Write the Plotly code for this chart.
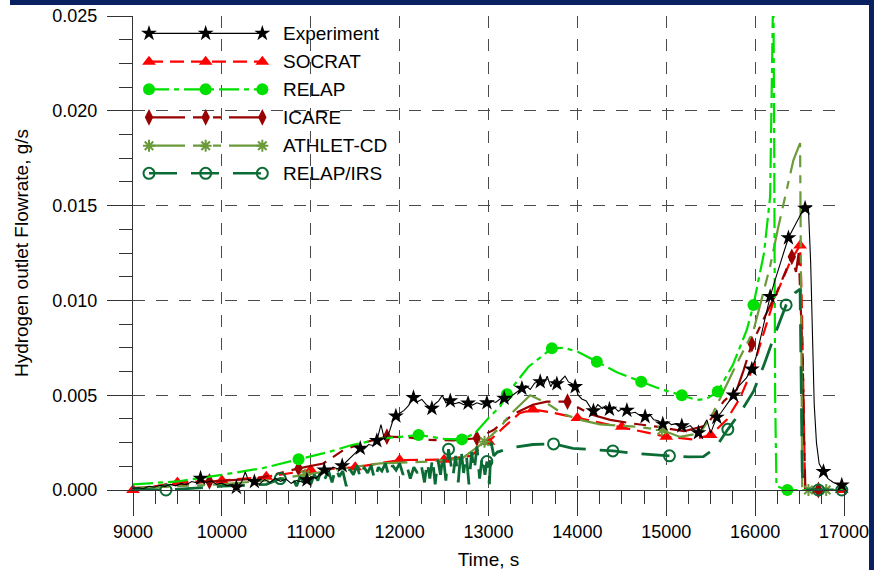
import plotly.graph_objects as go

# ---------------- data ----------------
# Experiment (measured outlet hydrogen flow)
exp_t = [9000, 9060, 9120, 9180, 9240, 9300, 9360, 9420, 9480, 9540, 9600, 9660, 9720, 9760,
         9820, 9880, 9940, 10000, 10060, 10120, 10163, 10220, 10263, 10300, 10366, 10420, 10480,
         10540, 10600, 10660, 10720, 10780, 10840, 10900, 10957, 11010, 11060, 11110, 11152, 11200,
         11250, 11300, 11354, 11400, 11450, 11500, 11557, 11600, 11650, 11700, 11744, 11790, 11830,
         11880, 11920, 11958, 12000, 12050, 12100, 12156, 12200, 12250, 12300, 12363, 12400, 12440,
         12480, 12520, 12570, 12620, 12670, 12720, 12770, 12820, 12870, 12920, 12982, 13030, 13080,
         13130, 13176, 13220, 13270, 13320, 13376, 13420, 13470, 13520, 13582, 13620, 13660, 13700,
         13740, 13769, 13810, 13861, 13900, 13940, 13975, 14010, 14050, 14100, 14140, 14181, 14230,
         14280, 14320, 14361, 14410, 14460, 14510, 14557, 14600, 14650, 14700, 14762, 14810, 14860,
         14910, 14961, 15010, 15060, 15120, 15175, 15220, 15270, 15320, 15362, 15410, 15457, 15500,
         15540, 15569, 15620, 15660, 15710, 15756, 15800, 15850, 15900, 15963, 16010, 16060, 16110,
         16169, 16220, 16270, 16320, 16375, 16420, 16470, 16520, 16562, 16600, 16625, 16645, 16665,
         16690, 16720, 16769, 16820, 16880, 16930, 16975, 17000]
exp_v = [0.00010, 0.00012, 0.00008, 0.00020, 0.00015, 0.00025, 0.00018, 0.00030, 0.00022, 0.00035,
         0.00028, 0.00045, 0.00038, 0.00062, 0.00040, 0.00048, 0.00030, 0.00036, 0.00022, 0.00030,
         0.00014, 0.00040, 0.00095, 0.00050, 0.00044, 0.00030, 0.00055, 0.00040, 0.00062, 0.00045,
         0.00058, 0.00035, 0.00050, 0.00042, 0.00053, 0.00070, 0.00062, 0.00090, 0.00105, 0.00098,
         0.00120, 0.00112, 0.00128, 0.00150, 0.00175, 0.00195, 0.00220, 0.00215, 0.00240, 0.00235,
         0.00260, 0.00345, 0.00265, 0.00300, 0.00360, 0.00390, 0.00405, 0.00420, 0.00445, 0.00487,
         0.00465, 0.00478, 0.00450, 0.00430, 0.00455, 0.00470, 0.00500, 0.00460, 0.00470, 0.00455,
         0.00462, 0.00450, 0.00458, 0.00448, 0.00460, 0.00452, 0.00460, 0.00470, 0.00462, 0.00480,
         0.00484, 0.00470, 0.00500, 0.00515, 0.00536, 0.00550, 0.00530, 0.00565, 0.00571, 0.00555,
         0.00600, 0.00545, 0.00580, 0.00560, 0.00575, 0.00600, 0.00570, 0.00560, 0.00545, 0.00500,
         0.00480, 0.00470, 0.00440, 0.00417, 0.00450, 0.00430, 0.00445, 0.00426, 0.00440, 0.00415,
         0.00430, 0.00420, 0.00405, 0.00410, 0.00395, 0.00387, 0.00400, 0.00370, 0.00365, 0.00348,
         0.00360, 0.00345, 0.00350, 0.00338, 0.00330, 0.00340, 0.00315, 0.00302, 0.00330, 0.00370,
         0.00300, 0.00350, 0.00383, 0.00410, 0.00440, 0.00470, 0.00500, 0.00540, 0.00565, 0.00590,
         0.00637, 0.00700, 0.00800, 0.00900, 0.01020, 0.01100, 0.01180, 0.01250, 0.01330, 0.01370,
         0.01410, 0.01460, 0.01486, 0.01480, 0.01200, 0.00800, 0.00450, 0.00250, 0.00140, 0.00097,
         0.00060, 0.00040, 0.00030, 0.00026, 0.00020]
exp_mark_t = [9760, 10163, 10366, 10957, 11152, 11354, 11557, 11744, 11958, 12156, 12363, 12570,
              12770, 12982, 13176, 13376, 13582, 13769, 13975, 14181, 14361, 14557, 14762, 14961,
              15175, 15362, 15569, 15756, 15963, 16169, 16375, 16562, 16769, 16975]

# SOCRAT
soc_t = [9000, 9500, 10000, 10500, 11000, 11500, 12000, 12500, 12800, 13000, 13170, 13350, 13500,
         13700, 14000, 14250, 14500, 14750, 15000, 15300, 15500, 15680, 15830, 15980, 16100, 16210,
         16400, 16506, 16525, 16545, 16562, 16712, 16975]
soc_v = [0.00000, 0.00040, 0.00050, 0.00070, 0.00105, 0.00120, 0.00158, 0.00160, 0.00180, 0.00255,
         0.00330, 0.00405, 0.00425, 0.00410, 0.00380, 0.00355, 0.00334, 0.00305, 0.00281, 0.00267,
         0.00290, 0.00370, 0.00485, 0.00650, 0.00830, 0.01000, 0.01210, 0.01290, 0.01000, 0.00400,
         0.00010, 0.00000, 0.00000]
soc_mark_t = [9000, 9500, 10000, 10500, 11000, 11500, 12000, 12500, 13000, 13500, 14000, 14500,
              15000, 15500, 16506, 16712, 16975]

# RELAP
rel_t = [9000, 9500, 10000, 10466, 10863, 11200, 11463, 11815, 12000, 12213, 12500, 12701, 12850,
         13000, 13132, 13207, 13450, 13713, 13850, 14000, 14219, 14450, 14718, 14950, 15175, 15340,
         15450, 15580, 15750, 15906, 15981, 16100, 16169, 16195, 16205, 16215, 16225, 16240, 16363,
         16600, 17000]
rel_v = [0.00030, 0.00045, 0.00080, 0.00116, 0.00162, 0.00200, 0.00237, 0.00272, 0.00280, 0.00290,
         0.00270, 0.00267, 0.00300, 0.00380, 0.00440, 0.00505, 0.00650, 0.00747, 0.00750, 0.00730,
         0.00677, 0.00620, 0.00571, 0.00530, 0.00500, 0.00475, 0.00480, 0.00519, 0.00660, 0.00844,
         0.00976, 0.01250, 0.01547, 0.02200, 0.02700, 0.01800, 0.00500, 0.00020, 0.00000, 0.00000,
         0.00000]
rel_mark_t = [10863, 12213, 12701, 13207, 13713, 14219, 14718, 15175, 15580, 15981, 16363]

# ICARE
ica_t = [9000, 9400, 9860, 10400, 10863, 11141, 11366, 11600, 11857, 12100, 12307, 12600, 12869,
         13056, 13281, 13500, 13657, 13889, 14144, 14369, 14631, 14894, 15200, 15450, 15650, 15794,
         15869, 15963, 16094, 16250, 16413, 16460, 16490, 16515, 16535, 16550, 16565, 16712, 17000]
ica_v = [0.00010, 0.00020, 0.00045, 0.00060, 0.00114, 0.00140, 0.00210, 0.00250, 0.00281, 0.00278,
         0.00264, 0.00262, 0.00273, 0.00316, 0.00400, 0.00450, 0.00466, 0.00466, 0.00400, 0.00370,
         0.00350, 0.00334, 0.00310, 0.00340, 0.00470, 0.00530, 0.00630, 0.00770, 0.00900, 0.01050,
         0.01230, 0.01150, 0.01250, 0.00900, 0.00700, 0.00300, 0.00010, 0.00000, 0.00000]
ica_mark_t = [9860, 10863, 11857, 12869, 13889, 15963, 16413, 16712]

# ATHLET-CD
ath_t = [9000, 9500, 10000, 10500, 10938, 11300, 11782, 12307, 12700, 12955, 13132, 13226, 13469,
         13650, 13844, 14032, 14256, 14668, 14950, 15156, 15381, 15531, 15756, 15981, 16169, 16262,
         16431, 16506, 16515, 16530, 16600, 16800, 17000]
ath_v = [0.00010, 0.00020, 0.00030, 0.00050, 0.00080, 0.00110, 0.00140, 0.00150, 0.00165, 0.00255,
         0.00330, 0.00390, 0.00500, 0.00460, 0.00400, 0.00370, 0.00346, 0.00334, 0.00316, 0.00280,
         0.00300, 0.00410, 0.00630, 0.00840, 0.01180, 0.01390, 0.01740, 0.01830, 0.01000, 0.00010,
         0.00000, 0.00000, 0.00000]
ath_mark_t = [10938, 12955, 14950, 16600, 16800]

# RELAP/IRS
irs_t = [9000, 9371, 9700, 10000, 10300, 10500, 10657, 10700, 10760, 10800, 10840, 10880, 10920,
         10960, 11000, 11040, 11080, 11120, 11160, 11200, 11240, 11280, 11320, 11360, 11400, 11440,
         11480, 11520, 11560, 11600, 11640, 11680, 11720, 11760, 11800, 11840, 11880, 11920, 11960,
         12000, 12040, 12080, 12120, 12160, 12200, 12240, 12280, 12310, 12340, 12370, 12400, 12430,
         12460, 12490, 12520, 12550, 12600, 12630, 12660, 12690, 12720, 12750, 12780, 12810, 12840,
         12870, 12900, 12930, 12960, 12982, 13010, 13030, 13060, 13100, 13200, 13319, 13500, 13732,
         13950, 14219, 14399, 14631, 14850, 15036, 15250, 15418, 15550, 15693, 15850, 15981, 16100,
         16206, 16349, 16450, 16506, 16515, 16530, 16545, 16712, 16975, 17000]
irs_v = [0.00005, 0.00000, 0.00010, 0.00020, 0.00025, 0.00030, 0.00060, 0.00050, 0.00030, 0.00060,
         0.00020, 0.00070, 0.00040, 0.00090, 0.00030, 0.00080, 0.00050, 0.00110, 0.00060, 0.00100,
         0.00040, 0.00120, 0.00070, 0.00100, 0.00020, 0.00110, 0.00080, 0.00130, 0.00060, 0.00120,
         0.00090, 0.00130, 0.00050, 0.00120, 0.00100, 0.00140, 0.00070, 0.00130, 0.00105, 0.00140,
         0.00080, 0.00130, 0.00060, 0.00120, 0.00090, 0.00140, 0.00040, 0.00150, 0.00060, 0.00170,
         0.00030, 0.00160, 0.00080, 0.00190, 0.00050, 0.00215, 0.00070, 0.00180, 0.00040, 0.00220,
         0.00090, 0.00190, 0.00030, 0.00200, 0.00100, 0.00230, 0.00060, 0.00180, 0.00080, 0.00150,
         0.00030, 0.00250, 0.00180, 0.00200, 0.00215, 0.00228, 0.00240, 0.00243, 0.00220, 0.00210,
         0.00206, 0.00193, 0.00185, 0.00180, 0.00175, 0.00176, 0.00220, 0.00320, 0.00420, 0.00520,
         0.00660, 0.00800, 0.00976, 0.01040, 0.01060, 0.00600, 0.00100, 0.00000, 0.00000, 0.00000,
         0.00000]
irs_mark_t = [9371, 10657, 12550, 12982, 13732, 14399, 15036, 15693, 16349, 16712, 16975]

# axis ticks
x_ticks = [9000, 10000, 11000, 12000, 13000, 14000, 15000, 16000, 17000]
y_ticks = [0.000, 0.005, 0.010, 0.015, 0.020, 0.025]

FONT = "Liberation Sans, Arial, sans-serif"

styles = [
    # name, t, v, marks, color, width, dash, symbol, size, marker line width
    ("SOCRAT", soc_t, soc_v, soc_mark_t, "#ff0000", 2.2, "14px,7px", "triangle-up", 12, 0),
    ("ICARE", ica_t, ica_v, ica_mark_t, "#990000", 2.2, "36px,8px,12px,8px,8px,8px", "diamond-tall", 12, 0),
    ("ATHLET-CD", ath_t, ath_v, ath_mark_t, "#6a9a3a", 2.2, "36px,8px,12px,8px,8px,8px", "asterisk", 10, 2),
    ("RELAP", rel_t, rel_v, rel_mark_t, "#00e000", 2.2, "20px,5px,5px,5px", "circle", 12, 0),
    ("RELAP/IRS", irs_t, irs_v, irs_mark_t, "#0b6b34", 2.8, "28px,14px", "circle-open", 11, 2),
    ("Experiment", exp_t, exp_v, exp_mark_t, "#000000", 1.1, "solid", "star", 12, 0),
]
legend_order = ["Experiment", "SOCRAT", "RELAP", "ICARE", "ATHLET-CD", "RELAP/IRS"]

fig = go.Figure()


def marker_spec(color, symbol, size, mlw):
    m = dict(symbol=symbol, size=size, color=color)
    if mlw:
        m["line"] = dict(color=color, width=mlw)
    else:
        m["line"] = dict(width=0)
    return m


for name, t, v, marks, color, lw, dash, symbol, size, mlw in styles:
    fig.add_trace(go.Scatter(x=t, y=v, mode="lines", name=name, showlegend=False,
                             line=dict(color=color, width=lw, dash=dash)))
    lookup = dict(zip(t, v))
    fig.add_trace(go.Scatter(x=marks, y=[lookup[m] for m in marks], mode="markers",
                             showlegend=False, cliponaxis=False,
                             marker=marker_spec(color, symbol, size, mlw)))

# hand-drawn legend on an overlay axis spanning the plot area (0..1 in both directions)
by_name = {s[0]: s for s in styles}
row_y = [0.9634, 0.9036, 0.8453, 0.7863, 0.7264, 0.6681]
sample_x = [0.0225, 0.1022, 0.1819]
for name, ry in zip(legend_order, row_y):
    _, _, _, _, color, lw, dash, symbol, size, mlw = by_name[name]
    fig.add_trace(go.Scatter(x=sample_x, y=[ry] * 3, xaxis="x2", yaxis="y2", mode="lines+markers",
                             showlegend=False, cliponaxis=False,
                             line=dict(color=color, width=min(lw, 2.4), dash=dash),
                             marker=marker_spec(color, symbol, size, mlw)))
    fig.add_annotation(x=0.2077, y=ry, xref="paper", yref="paper", text=name, showarrow=False,
                       xanchor="left", yanchor="middle", font=dict(family=FONT, size=19, color="#000"))

axis_common = dict(
    automargin=False,
    showline=True, linecolor="#333333", linewidth=1.3,
    ticks="outside", tickcolor="#333333", tickwidth=1.2, ticklen=25,
    showgrid=True, gridcolor="#4a4a4a", gridwidth=1, griddash="12px,11px",
    zeroline=False, tickfont=dict(family=FONT, size=18, color="#000"),
)

fig.update_layout(
    template="none",
    width=874, height=570,
    margin=dict(l=133, r=30, t=16, b=80, autoexpand=False),
    paper_bgcolor="white", plot_bgcolor="white",
    showlegend=False,
    xaxis=dict(range=[9000, 17000], tickvals=x_ticks, ticktext=[str(v) for v in x_ticks],
               minor=dict(dtick=250, tick0=9000, ticklen=13, tickcolor="#333333", ticks="outside",
                          showgrid=False),
               title=dict(text="Time, s", font=dict(family=FONT, size=19, color="#000"), standoff=16),
               **axis_common),
    yaxis=dict(range=[0, 0.025], tickvals=y_ticks, tickformat=".3f", ticklabelstandoff=6,
               minor=dict(dtick=0.00125, tick0=0, ticklen=13, tickcolor="#333333", ticks="outside",
                          showgrid=False),
               title=dict(text="Hydrogen outlet Flowrate, g/s",
                          font=dict(family=FONT, size=19, color="#000"), standoff=18),
               **axis_common),
    xaxis2=dict(range=[0, 1], overlaying="x", anchor="y2", visible=False, fixedrange=True),
    yaxis2=dict(range=[0, 1], overlaying="y", anchor="x2", visible=False, fixedrange=True),
)

# legend background (hides gridlines behind it)
fig.add_shape(type="rect", xref="paper", yref="paper", x0=0.0014, x1=0.3685, y0=0.633, y1=0.997,
              fillcolor="white", line=dict(width=0), layer="between")
# navy frame strips along the top and right edges
fig.add_shape(type="rect", xref="paper", yref="paper", x0=(10 - 133) / 711, x1=(874 - 133) / 711,
              y0=(490 - 5) / 474, y1=(490 + 2) / 474 + 0.1, fillcolor="#0a2161", line=dict(width=0),
              layer="above")
fig.add_shape(type="rect", xref="paper", yref="paper", x0=(869 - 133) / 711, x1=(880 - 133) / 711,
              y0=-0.2, y1=1.1, fillcolor="#0a2161", line=dict(width=0), layer="above")

fig.write_html("out.html")
